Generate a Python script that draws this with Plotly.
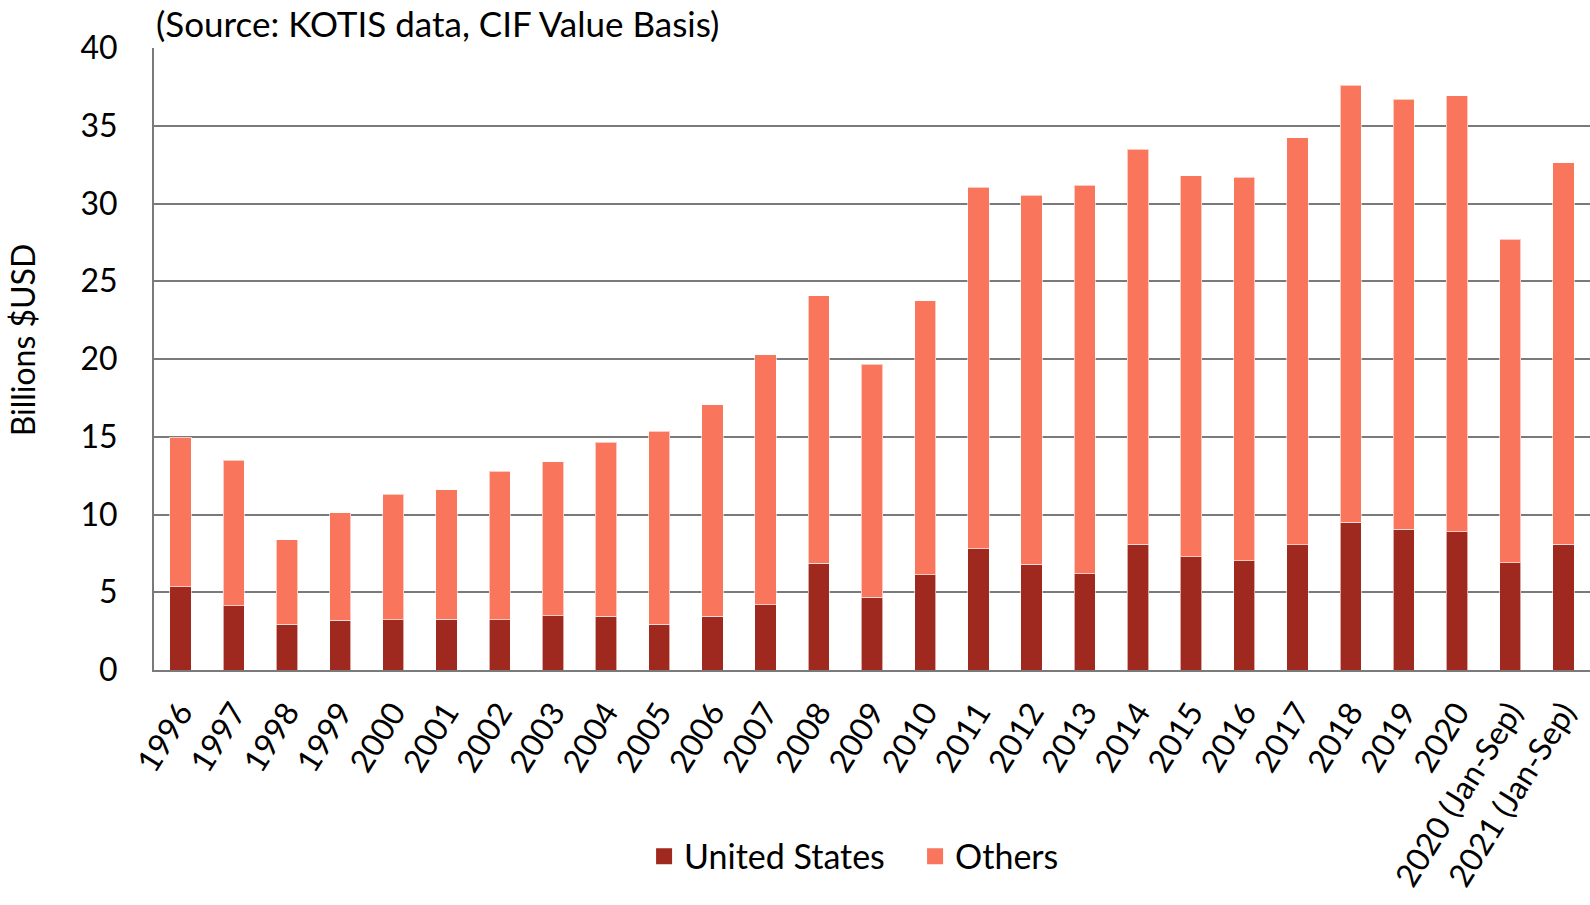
import plotly.graph_objects as go

categories = ["1996", "1997", "1998", "1999", "2000", "2001", "2002", "2003", "2004",
              "2005", "2006", "2007", "2008", "2009", "2010", "2011", "2012", "2013",
              "2014", "2015", "2016", "2017", "2018", "2019", "2020",
              "2020 (Jan-Sep)", "2021 (Jan-Sep)"]

totals = [14.98, 13.50, 8.38, 10.11, 11.29, 11.59, 12.79, 13.39, 14.66,
          15.36, 17.07, 20.26, 24.07, 19.66, 23.74, 31.04, 30.54, 31.17,
          33.48, 31.80, 31.68, 34.24, 37.61, 36.70, 36.93, 27.69, 32.61]

united_states = [5.34, 4.14, 2.94, 3.19, 3.24, 3.28, 3.24, 3.49, 3.45,
                 2.94, 3.45, 4.21, 6.87, 4.67, 6.11, 7.81, 6.80, 6.19,
                 8.09, 7.28, 7.03, 8.04, 9.49, 9.05, 8.90, 6.90, 8.09]

others = [round(t - u, 2) for t, u in zip(totals, united_states)]

series_names = ["United States", "Others"]

FONT = "Lato"
US_COLOR = "#A0291F"
OTHERS_COLOR = "#F9755B"
GRID = "#7A7A7A"
EDGE = dict(color="rgba(255,255,255,0.6)", width=1)

fig = go.Figure()
fig.add_trace(go.Bar(x=categories, y=united_states, name=series_names[0],
                     marker=dict(color=US_COLOR, line=EDGE), showlegend=False))
fig.add_trace(go.Bar(x=categories, y=others, name=series_names[1],
                     marker=dict(color=OTHERS_COLOR, line=EDGE), showlegend=False))
# legend entries with larger square swatches
for nm, col in zip(series_names, [US_COLOR, OTHERS_COLOR]):
    fig.add_trace(go.Scatter(x=[None], y=[None], mode="markers", name=nm,
                             marker=dict(symbol="square", size=16, color=col),
                             showlegend=True, hoverinfo="skip"))

fig.update_layout(
    barmode="stack",
    bargap=0.6,
    width=1590, height=905,
    margin=dict(l=154, r=0, t=48, b=235),
    paper_bgcolor="white",
    plot_bgcolor="white",
    font=dict(family=FONT, color="black", size=32),
    showlegend=True,
    legend=dict(orientation="h", x=0.530, xanchor="center", y=-0.30, yanchor="middle",
                font=dict(size=34, family=FONT, color="black"), traceorder="normal",
                itemwidth=30, tracegroupgap=0, entrywidth=226),
    xaxis=dict(type="category", range=[-0.5, len(categories) - 0.5],
               showline=True, linecolor=GRID, linewidth=2,
               tickangle=-58, tickfont=dict(size=32, family=FONT),
               ticks="", ticklabelstandoff=9, showgrid=False),
    yaxis=dict(range=[0, 40], dtick=5, showgrid=True, gridcolor=GRID, gridwidth=1.5,
               showline=True, linecolor=GRID, linewidth=2, zeroline=False,
               tickfont=dict(size=32, family=FONT), ticks="", ticklabelstandoff=28),
    annotations=[
        dict(text="(Source: KOTIS data, CIF Value Basis)", xref="paper", yref="paper",
             x=0, y=(670 - 0) / 622, xanchor="left", yanchor="top", showarrow=False,
             font=dict(size=35, family=FONT)),
        dict(text="Billions $USD", xref="paper", yref="paper", x=(22 - 154) / 1436, y=0.53,
             xanchor="center", yanchor="middle", textangle=-90, showarrow=False,
             font=dict(size=32, family=FONT)),
    ],
)

fig.write_html("out.html", config={"displayModeBar": False},
               post_script="document.body.style.margin='0';")
